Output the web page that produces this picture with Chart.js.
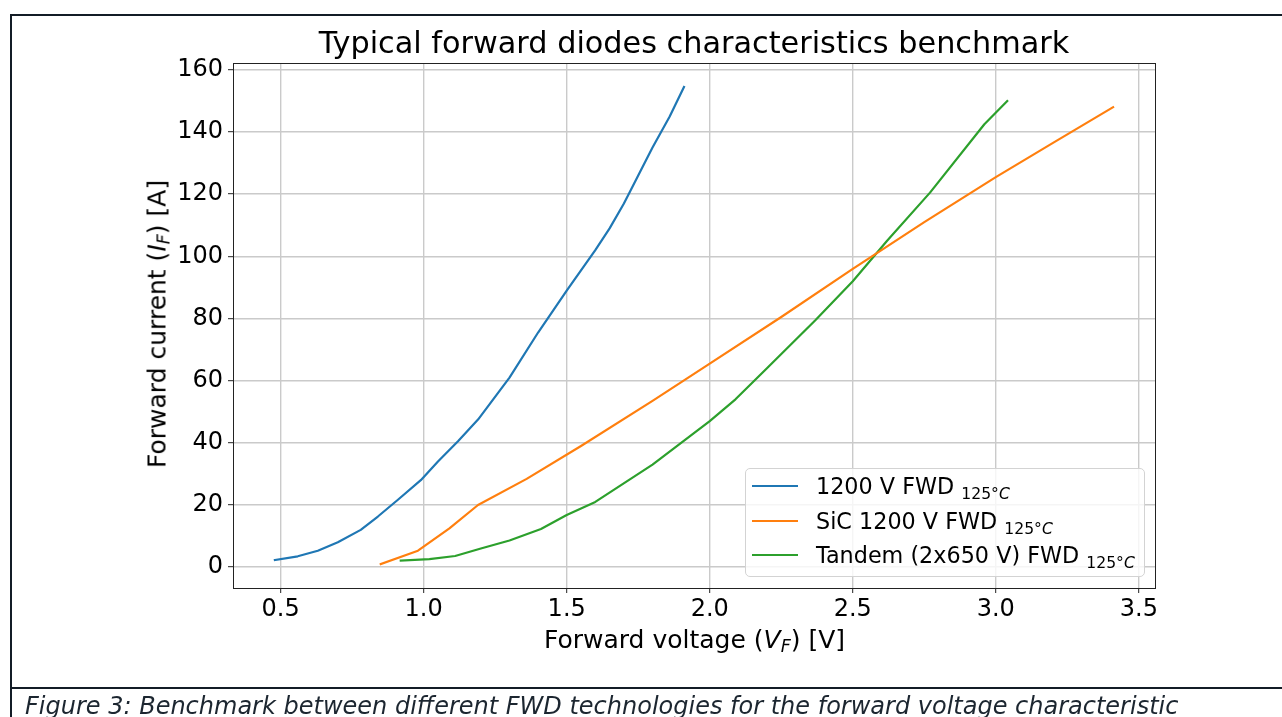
<!DOCTYPE html>
<html>
<head>
<meta charset="utf-8">
<script src="https://cdn.jsdelivr.net/npm/chart.js@4.4.1/dist/chart.umd.min.js"></script>
<style>
  html, body { margin: 0; padding: 0; background: #fff; }
  body { width: 1282px; height: 717px; position: relative; overflow: hidden; font-family: "DejaVu Sans", sans-serif; }
  #c { position: absolute; left: 0; top: 0; }
  .ln { position: absolute; background: #131c26; }
  .lab { position: absolute; font-family: "DejaVu Sans", sans-serif; color: #000; white-space: nowrap; line-height: 1; }
  .lab sub, #legend sub { font-size: 0.7em; vertical-align: -0.25em; line-height: 0; }
  #xlab { font-size: 25px; left: 694.5px; top: 627px; transform: translateX(-50%); }
  #ylab { font-size: 25px; left: 157px; top: 324px; transform: translate(-50%, -50%) rotate(-90deg); }
  #caption { position: absolute; left: 25px; top: 694px; font-size: 24px; font-style: italic; line-height: 1; color: #1c2630; font-family: "DejaVu Sans", sans-serif; white-space: nowrap; }
  #legend { position: absolute; background: rgba(255,255,255,0.8); border: 1px solid #d3d3d3; border-radius: 5px; padding: 0 9px 3px 6px; font-family: "DejaVu Sans", sans-serif; font-size: 22.3px; color: #000; }
  #legend .row { display: flex; align-items: center; height: 34.5px; white-space: nowrap; }
  #legend .sw { width: 46px; height: 2.2px; margin-right: 18px; }
  #legend sub { font-size: 0.7em; vertical-align: -0.3em; }
</style>
</head>
<body>
<canvas id="c" width="1282" height="717"></canvas>
<div class="ln" style="left:9.5px; top:13.5px; width:1273px; height:2.5px;"></div>
<div class="ln" style="left:9.5px; top:13.5px; width:2.5px; height:704px;"></div>
<div class="ln" style="left:9.5px; top:686.5px; width:1273px; height:2.5px;"></div>
<div id="xlab" class="lab">Forward voltage (<i>V</i><sub><i>F</i></sub>) [V]</div>
<div id="ylab" class="lab">Forward current (<i>I</i><sub><i>F</i></sub>) [A]</div>
<div id="legend"></div>
<div id="caption">Figure 3: Benchmark between different FWD technologies for the forward voltage characteristic</div>
<script>
// ---- data ----
const seriesNames = ['1200 V FWD', 'SiC 1200 V FWD', 'Tandem (2x650 V) FWD'];
const seriesSub = '125°';
const seriesColors = ['#1f77b4', '#ff7f0e', '#2ca02c'];

const vSi = [0.48, 0.56, 0.63, 0.70, 0.78, 0.84, 0.91, 0.99, 1.05, 1.12, 1.19, 1.30, 1.40, 1.50, 1.60, 1.65, 1.70, 1.75, 1.80, 1.86, 1.91];
const iSi = [2.3, 3.5, 5.3, 8.0, 12.0, 16.3, 21.7, 28.0, 34.0, 40.5, 47.5, 61.0, 75.5, 89.0, 102.0, 109.0, 117.0, 126.0, 135.0, 145.0, 154.5];

const vSiC = [0.85, 0.98, 1.09, 1.19, 1.36, 1.55, 1.80, 2.00, 2.25, 2.50, 2.75, 3.00, 3.20, 3.41];
const iSiC = [1.0, 5.3, 12.5, 20.0, 28.4, 39.0, 53.5, 65.5, 80.5, 96.0, 111.0, 125.5, 136.5, 148.0];

const vTan = [0.92, 1.02, 1.11, 1.20, 1.30, 1.41, 1.50, 1.60, 1.80, 2.00, 2.09, 2.20, 2.37, 2.50, 2.62, 2.77, 2.96, 3.04];
const iTan = [2.1, 2.6, 3.6, 6.0, 8.6, 12.3, 16.8, 21.0, 33.0, 47.0, 54.0, 64.0, 79.5, 92.0, 105.0, 120.5, 142.5, 150.0];

const xTicks = [0.5, 1.0, 1.5, 2.0, 2.5, 3.0, 3.5];
const yTicks = [0, 20, 40, 60, 80, 100, 120, 140, 160];
const xLimits = [0.3335, 3.5565];
const yLimits = [-6.7, 162.2];
const titleText = 'Typical forward diodes characteristics benchmark';

// ---- build chart ----
const seriesV = [vSi, vSiC, vTan];
const seriesI = [iSi, iSiC, iTan];
const datasets = seriesNames.map((name, k) => ({
  label: name,
  data: seriesV[k].map((v, i) => ({ x: v, y: seriesI[k][i] })),
  borderColor: seriesColors[k],
  backgroundColor: seriesColors[k],
  borderWidth: 2.2,
  showLine: true,
  pointRadius: 0,
  pointHoverRadius: 0,
  tension: 0,
  borderJoinStyle: 'round',
  borderCapStyle: 'square',
  fill: false
}));

const frame = {
  id: 'frame',
  afterDraw(chart) {
    const a = chart.chartArea, ctx = chart.ctx;
    ctx.save();
    ctx.strokeStyle = '#222';
    ctx.lineWidth = 1;
    ctx.strokeRect(Math.round(a.left) + 0.5, Math.round(a.top) + 0.5, Math.round(a.right - a.left), Math.round(a.bottom - a.top));
    ctx.restore();
  }
};

const tickFont = { family: 'DejaVu Sans', size: 24 };
const gridCfg = { color: '#cacaca', lineWidth: 1.4, tickLength: 5, tickColor: '#222', tickWidth: 1 };
const chart = new Chart(document.getElementById('c'), {
  type: 'scatter',
  data: { datasets },
  options: {
    responsive: false,
    animation: false,
    devicePixelRatio: 1,
    layout: { padding: { left: 0, right: 127, top: 0, bottom: 0 } },
    plugins: {
      legend: { display: false },
      tooltip: { enabled: false },
      title: {
        display: true,
        text: titleText,
        fullSize: false,
        color: '#000',
        font: { family: 'DejaVu Sans', size: 30.3, weight: 'normal', lineHeight: 1.1 },
        padding: { top: 28, bottom: 1.7 }
      }
    },
    scales: {
      x: {
        type: 'linear',
        min: xLimits[0], max: xLimits[1],
        afterBuildTicks: s => { s.ticks = xTicks.map(v => ({ value: v })); },
        afterFit: s => { s.height = 129; },
        ticks: { font: tickFont, color: '#000', padding: 2, maxRotation: 0, autoSkip: false, callback: v => Number(v).toFixed(1) },
        grid: gridCfg,
        border: { color: '#222', width: 1 }
      },
      y: {
        type: 'linear',
        min: yLimits[0], max: yLimits[1],
        afterBuildTicks: s => { s.ticks = yTicks.map(v => ({ value: v })); },
        afterFit: s => { s.width = 233; },
        ticks: { font: tickFont, color: '#000', padding: 5, autoSkip: false, callback: v => String(v) },
        grid: gridCfg,
        border: { color: '#222', width: 1 }
      }
    }
  },
  plugins: [frame]
});

// ---- legend (HTML, built from the chart's datasets) ----
const leg = document.getElementById('legend');
chart.data.datasets.forEach(ds => {
  const row = document.createElement('div');
  row.className = 'row';
  const sw = document.createElement('span');
  sw.className = 'sw';
  sw.style.background = ds.borderColor;
  const tx = document.createElement('span');
  tx.innerHTML = ds.label + ' <sub>' + seriesSub + '<i>C</i></sub>';
  row.appendChild(sw); row.appendChild(tx);
  leg.appendChild(row);
});
const ca = chart.chartArea;
const lw = leg.offsetWidth, lh = leg.offsetHeight;
leg.style.left = (ca.right - 10 - lw) + 'px';
leg.style.top = (ca.bottom - 11 - lh) + 'px';
</script>
</body>
</html>
